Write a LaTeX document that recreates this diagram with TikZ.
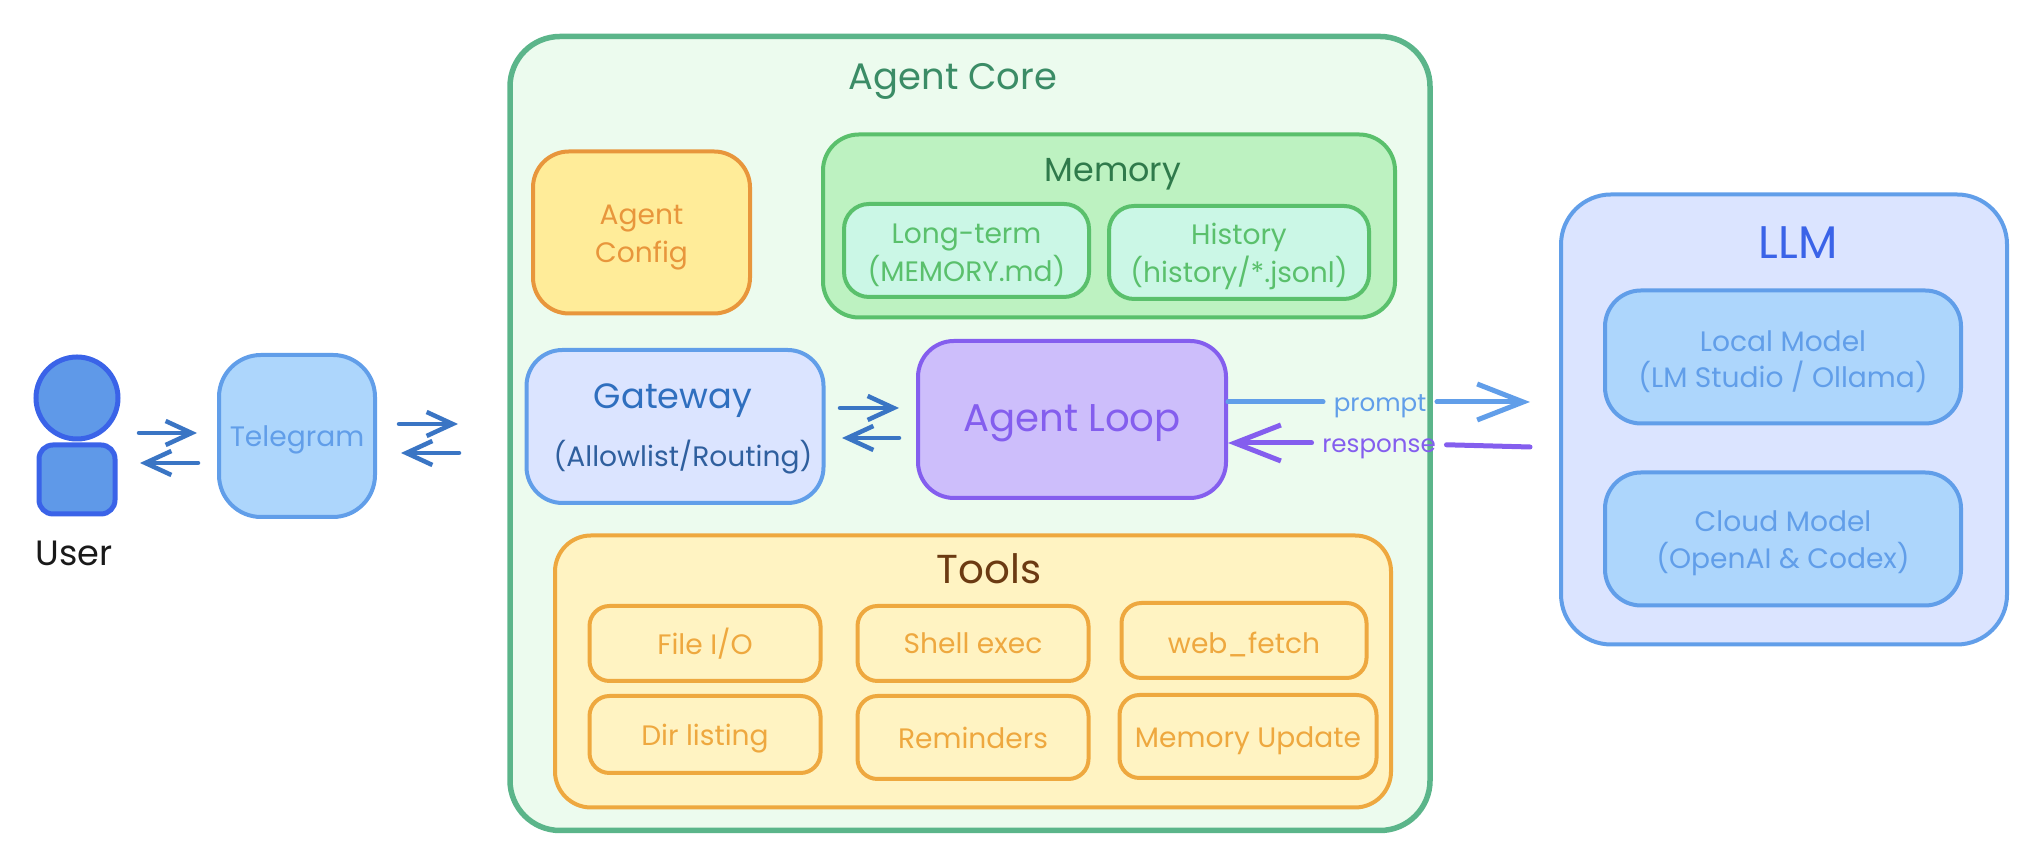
\documentclass[tikz,border=0pt]{standalone}
\usepackage{fontspec}
\setmainfont{Poppins}
\usetikzlibrary{positioning,arrows.meta}
\definecolor{coreline}{HTML}{5BB58A}
\definecolor{corefill}{HTML}{ECFBEE}
\definecolor{coretext}{HTML}{3B8C66}
\definecolor{memline}{HTML}{5AC06C}
\definecolor{memfill}{HTML}{BDF2C1}
\definecolor{memsub}{HTML}{CBF7E6}
\definecolor{memtext}{HTML}{2F7A4B}
\definecolor{cfgline}{HTML}{E8963C}
\definecolor{cfgfill}{HTML}{FFEC99}
\definecolor{toolline}{HTML}{EEA83F}
\definecolor{toolfill}{HTML}{FFF3C2}
\definecolor{tooltext}{HTML}{6B3A12}
\definecolor{blueline}{HTML}{619EE9}
\definecolor{bluefill}{HTML}{DBE4FF}
\definecolor{bluesub}{HTML}{ADD6FC}
\definecolor{gatetitle}{HTML}{2F6FBF}
\definecolor{gatetext}{HTML}{2F5F9E}
\definecolor{loopline}{HTML}{845EEE}
\definecolor{loopfill}{HTML}{CDBEFB}
\definecolor{userline}{HTML}{3A63E8}
\definecolor{userfill}{HTML}{5F99E8}
\definecolor{flowline}{HTML}{3A75C4}
\newcommand{\lowr}{\rule{0pt}{1.05em}}
\tikzset{
  box/.style={draw, rounded corners=0.36cm, line width=0.04cm, align=center, inner sep=0pt, font=\fontsize{8}{10.3}\selectfont},
  corebox/.style={box, draw=coreline, fill=corefill, line width=0.055cm, rounded corners=0.5cm, minimum width=9.2cm, minimum height=7.94cm},
  membox/.style={box, draw=memline, fill=memsub, text=memline, rounded corners=0.25cm, minimum width=2.45cm, minimum height=0.93cm, font=\fontsize{8}{9.3}\selectfont},
  toolbox/.style={box, draw=toolline, fill=toolfill, text=toolline, rounded corners=0.2cm, minimum width=2.31cm, minimum height=0.75cm},
  modelbox/.style={box, draw=blueline, fill=bluesub, text=blueline, minimum width=3.56cm, minimum height=1.33cm},
  title/.style={font=\fontsize{10}{12}\selectfont, inner sep=0pt},
  flow/.style={draw=flowline, line width=0.045cm, line cap=round, -{Straight Barb[length=0.26cm, width=0.24cm]}},
  bigflow/.style={line width=0.05cm, line cap=round},
  bigtip/.style={-{Straight Barb[length=0.46cm, width=0.36cm]}},
  edgelabel/.style={font=\fontsize{7}{9}\selectfont, inner xsep=0.1cm, inner ysep=0pt, text height=0.25cm, text depth=0.05cm}
}
\begin{document}
\begin{tikzpicture}
  \useasboundingbox (0,0) rectangle (20.36,8.64);

  % user and telegram
  \node[circle, draw=userline, fill=userfill, line width=0.05cm, minimum size=0.82cm, inner sep=0pt] (head) at (0.77,4.66) {};
  \node[draw=userline, fill=userfill, line width=0.05cm, rounded corners=0.14cm, minimum width=0.76cm, minimum height=0.69cm, inner sep=0pt, below=0.01 of head] (body) {};
  \node[title, text=black!90, below=0.235 of body, xshift=-0.03cm] (user) {User};
  \node[box, draw=blueline, fill=bluesub, text=blueline, rounded corners=0.42cm, minimum width=1.56cm, minimum height=1.62cm] (telegram) at (2.97,4.28) {\lowr Telegram};

  % agent core
  \node[corebox] (core) at (9.70,4.305) {};
  \node[title, text=coretext, font=\fontsize{10.5}{13}\selectfont] (coretitle) at (9.53,7.83) {Agent Core};
  \node[box, draw=cfgline, fill=cfgfill, text=cfgline, minimum width=2.17cm, minimum height=1.62cm, font=\fontsize{8}{11}\selectfont] (config) at (6.415,6.315) {\lowr Agent\\Config};

  \node[box, draw=memline, fill=memfill, minimum width=5.72cm, minimum height=1.83cm] (memory) at (11.09,6.38) {};
  \node[title, text=memtext, font=\fontsize{9.5}{12}\selectfont] (memtitle) at (11.13,6.90) {Memory};
  \node[membox] (longterm) at (9.665,6.135) {\lowr Long-term\\(MEMORY.md)};
  \node[membox, right=0.16 of longterm, yshift=-0.02cm, minimum width=2.6cm] (history) {\lowr History\\(history/*.jsonl)};

  \node[box, draw=blueline, fill=bluefill, minimum width=2.97cm, minimum height=1.53cm] (gateway) at (6.75,4.375) {};
  \node[title, text=gatetitle] (gatetitle) at (6.73,4.63) {Gateway};
  \node[text=gatetext, font=\fontsize{8}{10}\selectfont, inner sep=0pt] (gatetext) at (6.83,4.07) {(Allowlist/Routing)};
  \node[box, draw=loopline, fill=loopfill, text=loopline, font=\fontsize{11}{13}\selectfont, minimum width=3.08cm, minimum height=1.57cm] (loop) at (10.72,4.445) {\rule{0pt}{0.9em}Agent Loop};

  \node[box, draw=toolline, fill=toolfill, minimum width=8.36cm, minimum height=2.72cm] (tools) at (9.73,1.925) {};
  \node[title, text=tooltext, font=\fontsize{11.5}{13}\selectfont] (toolstitle) at (9.89,2.95) {Tools};
  \node[toolbox] (fileio) at (7.05,2.205) {File I/O};
  \node[toolbox, right=0.33 of fileio] (shell) {Shell exec};
  \node[toolbox, right=0.29 of shell, yshift=0.03cm, minimum width=2.45cm] (webfetch) {\lowr web\_fetch};
  \node[toolbox, below=0.11 of fileio, minimum height=0.77cm] (dirlist) {\lowr Dir listing};
  \node[toolbox, below=0.11 of shell, minimum height=0.83cm] (reminders) {Reminders};
  \node[toolbox, below=0.13 of webfetch, xshift=0.04cm, minimum width=2.57cm, minimum height=0.83cm] (memupdate) {\lowr Memory Update};

  % llm
  \node[box, draw=blueline, fill=bluefill, rounded corners=0.5cm, minimum width=4.46cm, minimum height=4.5cm] (llm) at (17.84,4.445) {};
  \node[title, text=userline, font=\fontsize{13}{15}\selectfont] (llmtitle) at (17.98,6.21) {LLM};
  \node[modelbox] (local) at (17.83,5.07) {\lowr Local Model\\(LM Studio / Ollama)};
  \node[modelbox, below=0.45 of local] (cloud) {\lowr Cloud Model\\(OpenAI \& Codex)};

  % free ends of the short arrows
  \coordinate (ua) at (1.39,4.31);
  \coordinate (ub) at (1.97,4.31);
  \coordinate (uc) at (1.98,4.01);
  \coordinate (ud) at (1.40,4.01);
  \coordinate (ta) at (3.99,4.40);
  \coordinate (tb) at (4.58,4.40);
  \coordinate (tc) at (4.59,4.11);
  \coordinate (td) at (4.01,4.11);
  \coordinate (ga) at (8.40,4.56);
  \coordinate (gb) at (8.99,4.56);
  \coordinate (gc) at (8.99,4.26);
  \coordinate (gd) at (8.42,4.26);
  \coordinate (pe) at (15.30,4.62);
  \coordinate (re) at (15.30,4.17);

  \draw[flow] (ua) -- (ub);
  \draw[flow] (uc) -- (ud);
  \draw[flow] (ta) -- (tb);
  \draw[flow] (tc) -- (td);
  \draw[flow] (ga) -- (gb);
  \draw[flow] (gc) -- (gd);

  \node[edgelabel, text=blueline] (promptlabel) at (13.80,4.62) {prompt};
  \node[edgelabel, text=loopline] (responselabel) at (13.79,4.21) {response};
  \draw[bigflow, draw=blueline] (loop.east |- promptlabel) -- (promptlabel);
  \draw[bigflow, bigtip, draw=blueline] (promptlabel) -- (pe);
  \draw[bigflow, draw=loopline] (re) -- (responselabel);
  \draw[bigflow, bigtip, draw=loopline] (responselabel) -- (loop.east |- responselabel);
\end{tikzpicture}
\end{document}
